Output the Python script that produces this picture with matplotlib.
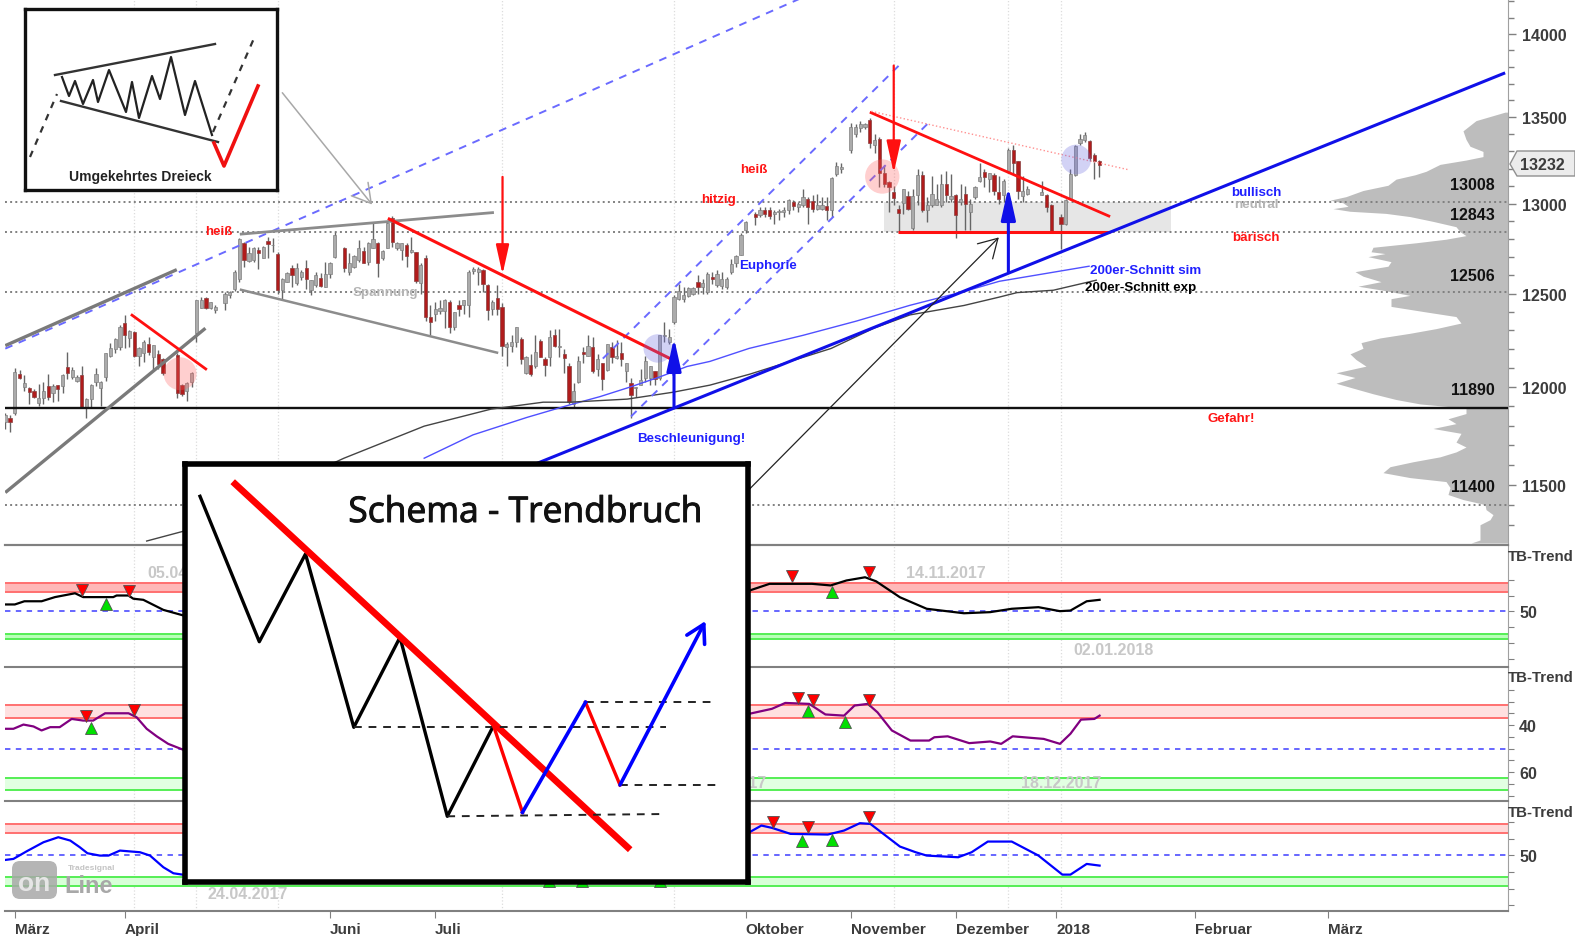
#chart of the DAX with trend lines, volume profile and three indicator panels
import numpy as np
import matplotlib
matplotlib.use('Agg')
import matplotlib.pyplot as plt
import matplotlib.patheffects as pe
from matplotlib.patches import FancyBboxPatch, Polygon

nan = float('nan')
W, H = 1575, 937

#candles, one entry per bar
highs = [11864,11855,12100,12088,12061,12000,11989,12016,12025,12070,
         12016,12011,12070,12187,12106,12061,12111,11944,12016,12100,
         12034,12178,12231,12258,12330,12384,12303,12298,12213,12249,
         12267,12222,12196,12151,nan,nan,12178,12016,12025,12079,
         12464,12482,12482,12455,12438,nan,12509,12513,12629,12805,
         12787,12759,12759,12759,12763,12815,12805,12726,12583,12620,
         12657,12666,12629,12685,12574,12620,12615,12676,12676,12842,
         nan,12759,12722,12713,12796,12759,12787,12889,12787,12741,
         12898,12930,12787,12781,12778,12815,12731,12666,12713,12435,
         12453,12463,12472,12463,12398,12463,12463,12629,12645,12645,
         12636,12554,12464,12545,12446,12238,12274,12319,12265,12165,
         12174,12274,12256,12156,12301,12310,12310,12201,12129,12020,
         12165,12210,12274,12265,12174,12129,12228,12238,12247,12238,
         12129,12047,12002,12093,12165,12111,12084,12274,12346,12310,
         12491,12554,12536,12536,12536,12600,12581,12618,12617,12630,
         12617,12589,12691,12710,12832,12901,nan,12953,12981,12981,
         12981,12963,12972,12981,13028,13019,13009,13084,13037,13047,
         13056,13037,13037,13150,13238,13234,nan,13468,13458,13477,
         13468,13496,13402,13383,13224,13131,13103,12991,13084,13075,
         13084,13200,13187,13037,13159,13112,13168,13187,13168,13056,
         13112,13103,13028,13103,13234,13197,13178,13178,13159,13140,
         13318,13337,13243,13159,13103,nan,nan,13131,13056,13000,
         nan,12944,13028,13197,13337,13402,13411,13365,13290,13253]
lows = [11783,11765,11855,12043,11980,11914,11944,11900,11914,11935,
        11921,11927,11971,12043,12043,12025,11891,11837,11891,12007,
        11900,12034,12160,12178,12196,12204,12213,12160,12111,12133,
        12169,12088,12097,12061,nan,nan,11944,11953,11927,11998,
        12240,12420,12416,12416,12393,nan,12411,12473,12515,12565,
        12648,12676,12676,12633,12694,12694,12731,12500,12466,12565,
        12537,12546,12574,12527,12490,12537,12537,12537,12583,12694,
        nan,12620,12602,12639,12676,12666,12657,12750,12589,12685,
        12750,12759,12741,12685,12648,12722,12559,12500,12351,12277,
        12351,12388,12314,12287,12300,12379,12388,12370,12609,12545,
        12509,12355,12382,12382,12165,12111,12183,12210,12120,12066,
        12056,12102,12156,12056,12111,12210,12156,12075,11912,11894,
        12020,12129,12165,12075,12056,11984,12084,12129,12147,12111,
        12029,11839,11948,12011,12029,12011,12011,12038,12238,12228,
        12337,12464,12455,12482,12491,12500,12500,12500,12551,12533,
        12523,12523,12607,12645,12710,12832,nan,12878,12925,12925,
        12916,12888,12907,12925,12944,12963,12953,12981,12888,12953,
        12963,12963,12907,12925,13159,13178,nan,13290,13383,13411,
        13430,13318,13290,13093,13093,12953,12991,12841,12944,12963,
        12851,12991,12953,12897,12981,12991,12981,13009,13009,12804,
        12991,12851,12851,13028,13122,13094,13066,13047,13000,13009,
        13178,13168,13028,13009,13047,nan,nan,13051,12953,12832,
        nan,12748,12879,13028,13159,13337,13355,13243,13140,13155]
opens = [11819,11837,11864,12070,12000,11993,11980,11918,11944,12004,
         11971,12011,12004,12106,12052,12034,12061,11891,11939,12029,
         11993,12052,12165,12201,12213,12339,12258,12294,12165,12178,
         12228,12160,12172,12147,nan,nan,12169,12011,11980,12025,
         12285,12423,12473,12423,12411,nan,12447,12491,12527,12578,
         12778,12681,12685,12741,12694,12792,12765,12718,12522,12565,
         12639,12555,12592,12639,12522,12546,12583,12537,12607,12700,
         nan,12750,12620,12648,12685,12735,12676,12750,12781,12694,
         12750,12917,12750,12741,12768,12728,12731,12555,12694,12370,
         12388,12403,12403,12453,12318,12435,12435,12435,12621,12618,
         12627,12545,12418,12473,12428,12210,12216,12238,12256,12075,
         12114,12111,12246,12147,12156,12274,12210,12174,12111,11912,
         12024,12187,12165,12210,12093,12129,12089,12210,12152,12180,
         12084,12020,11993,12011,12047,12047,12084,12047,12270,12238,
         12346,12469,12469,12487,12500,12563,12536,12509,12592,12546,
         12542,12533,12617,12669,12714,12850,nan,12944,12935,12963,
         12963,12944,12953,12953,12963,13009,12981,12991,13028,13013,
         12972,12972,12987,12963,13168,13196,nan,13309,13402,13439,
         13443,13486,13337,13374,13178,13122,13069,12972,13006,13043,
         12860,13047,13163,12963,12995,12995,12991,13112,13028,13047,
         13009,13056,12953,13037,13131,13182,13140,13163,13069,13047,
         13187,13309,13243,13043,13056,nan,nan,13051,13051,12994,
         nan,12925,12888,13028,13163,13350,13365,13361,13281,13243]
closes = [11855,11819,12079,12048,12022,11975,11950,11944,11980,11950,
          12007,11989,12061,12075,12088,12052,11896,11936,12011,12070,
          12029,12178,12204,12255,12321,12276,12298,12165,12208,12240,
          12187,12222,12124,12075,nan,nan,11971,11962,12022,12074,
          12464,12464,12423,12452,12429,nan,12500,12509,12620,12800,
          12685,12722,12750,12722,12759,12774,12768,12522,12578,12611,
          12602,12639,12620,12578,12574,12602,12540,12607,12666,12824,
          nan,12639,12670,12704,12750,12670,12781,12800,12666,12735,
          12889,12787,12778,12778,12704,12741,12570,12657,12370,12348,
          12416,12422,12466,12318,12398,12416,12463,12620,12636,12636,
          12554,12409,12455,12418,12219,12228,12238,12319,12147,12156,
          12066,12183,12161,12114,12265,12219,12216,12152,11921,11980,
          12138,12174,12216,12084,12147,12044,12228,12156,12165,12147,
          12125,11957,11999,12038,12138,12111,12042,12274,12277,12265,
          12482,12513,12491,12531,12531,12536,12560,12609,12579,12607,
          12579,12579,12663,12706,12826,12897,nan,12922,12963,12940,
          12931,12953,12957,12966,13019,12987,13000,13037,12981,12968,
          12991,12991,12963,13144,13215,13211,nan,13443,13443,13462,
          13462,13350,13365,13178,13112,13093,13032,12950,13081,12972,
          13043,13163,12963,12991,13056,13028,13112,13047,13043,12935,
          13028,13000,13000,13094,13150,13150,13174,13075,13028,13131,
          13309,13234,13075,13075,13084,nan,nan,13066,12981,12841,
          nan,12888,13019,13168,13331,13374,13393,13262,13243,13224]

#moving averages
sma_bars = [87.7,97.9,109.2,117.6,124.5,130.8,137.1,142.7,147.5,155.7,167,178.1,189.4,200.7,208.1,215.6,226.9]
sma_vals = [11633,11752,11842,11903,11950,12000,12054,12108,12135,12204,12274,12350,12436,12511,12567,12600,12650]
ema_bars = [29.6,37.6,70.9,87.7,101.7,112.6,118.2,130.2,139.8,147.5,155.9,172.9,181.9,189.4,200.7,208,211.8,219.4,228.4]
ema_vals = [11220,11270,11633,11797,11885,11921,11921,11937,11973,12010,12068,12204,12313,12384,12435,12480,12505,12518,12573]

#volume profile
prof_price = [13530,13480,13420,13370,13330,13300,13270,13250,13225,13185,13165,13140,13105,13075,13040,13020,13005,12985,12972,12957,
              12945,12927,12900,12870,12842,12820,12800,12780,12755,12730,12720,12703,12675,12650,12620,12595,12565,12540,12518,12490,
              12472,12430,12400,12375,12340,12310,12285,12260,12235,12205,12175,12145,12110,12075,12050,12020,11990,11965,11935,11912,
              11890,11862,11835,11810,11785,11760,11715,11690,11665,11640,11615,11590,11560,11535,11515,11485,11450,11425,11400,11375,
              11350,11325,11300,11225,11210]
prof_vol = [3,32,45,42,38,25,25,42,68,82,93,112,120,145,162,178,165,160,175,158,
            122,98,75,52,48,42,62,92,135,137,123,140,117,120,153,145,127,150,125,98,
            117,117,82,52,47,72,98,128,147,145,158,152,142,172,153,172,152,135,112,88,
            42,42,60,52,75,47,52,42,52,68,95,118,125,98,62,58,60,45,23,22,
            15,18,28,28,37]

#levels and axis labels
levels = [13008,12843,12506,11400]
level_danger = 11890
price_ticks = [11500,12000,12500,13000,13500,14000]
price_minor = [11300,11400,11600,11700,11800,11900,12100,12200,12300,12400,12600,12700,12800,12900,13100,13200,13300,13400,13600,13700,13800,13900,14100,14200]
grid_bars = [27,40,57,104,140,186,210,221]
month_bars = [2,25,68,90,155,177,199,220,249,277]
month_labels = ['März','April','Juni','Juli','Oktober','November','Dezember','2018','Februar','März']

#indicator 1
ind1_left_x = [0,2,4,7.6,10.4,14.6,16.3,22.6,23.3,25.8,26.8,28.9,33.1,37.3]
ind1_left = [54.4,54.4,56.4,56.4,59,61.4,59,59,60,60,58,57.3,51,47.5]
ind1_right_x = [155.8,160,168.9,172.8,176.1,180,182.3,187.3,192.9,200.7,206.2,210.7,216.3,220.8,223,226.4,229.1]
ind1_right = [63.1,67.3,67.3,66.3,69.4,71.4,68.9,58.9,51.7,48.9,49.6,51.7,52.7,50.2,50.6,56.4,57.3]
ind1_sell = ([16,26,164.7,180.9],[63.6,62.7,71.9,74.4])
ind1_buy = ([21,173],[54.8,62.1])

#indicator 2
ind2_left_x = [0,1.7,3.8,5.9,7.6,9.4,11.4,13.9,16.3,18.4,20.9,25.8,27.5,29.6,31.7,34.1,37.1]
ind2_left = [41.6,41.6,39.8,40.6,42.3,40.9,40.9,37.4,38.1,38.1,35,35,36.7,41.6,44.8,48,50.4]
ind2_right_x = [155.8,160.5,163.3,168.3,171.7,175.6,177.8,180.6,182.6,185.6,189.5,193.4,194.5,197.3,201.8,206.2,208.5,210.9,217.4,220.8,223,225.2,228,229.1]
ind2_right = [35.2,33.1,30.6,31,35.5,36,31.7,31,34.6,42.3,46.6,46.6,45.2,44.8,47.7,47,48,44.8,45.9,48,43.7,37.7,37.4,36]
ind2_sell = ([16.9,26.9,165.9,169,180.8],[36,33.8,28.4,29.3,29.3])
ind2_buy = ([17.9,168,175.9],[41.2,34.1,38.8])

#indicator 3
ind3_left_x = [0,1.7,4.5,8,11.1,13.6,15.6,17.2,19.8,21.6,24,28.2,30.3,33.1,35.2,37.1]
ind3_left = [47.2,47.8,52.4,57.8,60.8,58.8,54.8,51.2,49.8,49.8,52.8,51.8,49.8,42.8,39.2,38.4]
ind3_right_x = [155.8,158.3,160.5,164.4,172.2,175.6,178.9,181.1,187.3,190.6,192.9,199.5,202.3,205.7,210.7,216.3,221.3,223,226.4,229.1]
ind3_right = [63.8,67.8,66.4,62.8,62.4,64.8,69.2,68.8,55.2,51.8,49.8,48.8,51.8,58.2,58.2,49.8,38.4,38.4,44.8,43.8]
ind3_sell = ([160.8,168,180.8],[69.8,66.8,72.8])
ind3_buy = ([113.8,120.7,137.1,166.9,173],[34.5,34.5,34.5,58.8,59.2])

FONT = 'Liberation Sans'
plt.rcParams['font.family'] = [FONT, 'DejaVu Sans']
GREY_TXT = '#3c3c3c'
XLIM = (-0.06, 314.6)

fig = plt.figure(figsize=(W/100, H/100), dpi=100, facecolor='white')


def px_axes(left, top, right, bottom, **kw):
    return fig.add_axes([left/W, 1-bottom/H, (right-left)/W, (bottom-top)/H], **kw)


#price panel
ax = px_axes(5, 0, 1508, 545.5)
ax.set_yscale('log')
ax.set_xlim(*XLIM)
ax.set_ylim(11203, 14215)
ax.set_zorder(2)
ax.patch.set_visible(False)

bar_x = np.arange(len(closes))
hi, lo, op, cl = map(np.array, (highs, lows, opens, closes))
is_red = cl < op
ax.vlines(bar_x, lo, hi, color='#666666', lw=1.0, zorder=3)
ax.bar(bar_x[~is_red], (cl-op)[~is_red], bottom=op[~is_red], width=0.68, color='#ababab', edgecolor='#808080', lw=0.5, zorder=4)
ax.bar(bar_x[is_red], (op-cl)[is_red], bottom=cl[is_red], width=0.68, color='#b01c1c', edgecolor='#8a4040', lw=0.5, zorder=4)

for b in grid_bars:
    ax.axvline(b, color='#dcdcdc', ls=':', lw=0.9, zorder=1)
for lv in levels:
    ax.axhline(lv, color='#808080', ls=':', lw=1.4, zorder=2)
ax.axhline(level_danger, color='#111111', lw=1.7, zorder=5)

#grey box behind the triangle
ax.fill_between([184, 244], 12843, 13008, color='#e6e6e6', lw=0, zorder=1)

ax.plot(sma_bars, sma_vals, color='#5050ff', lw=1.0, zorder=5)
ax.plot(ema_bars, ema_vals, color='#444444', lw=1.0, zorder=5)


def tline(b0, p0, b1, p1, color, lw=2.2, ls='-'):
    ax.plot([b0, b1], [p0, p1], color=color, lw=lw, ls=ls, zorder=6, solid_capstyle='butt')


#dashed channels
tline(0, 12203, 166.2, 14215, '#6a6aff', 1.4, (0, (4, 3.5)))
tline(125.1, 12150, 187.5, 13820, '#6a6aff', 1.4, (0, (4, 3.5)))
tline(131, 11847, 193.4, 13470, '#6a6aff', 1.4, (0, (4, 3.5)))
#grey trend lines
tline(0, 12219, 35.9, 12631, '#7a7a7a', 2.4)
tline(0, 11460, 41.9, 12312, '#7a7a7a', 2.4)
tline(49.1, 12828, 102.3, 12950, '#8c8c8c', 2.0)
tline(49.1, 12522, 103.2, 12180, '#8c8c8c', 1.8)
#red trend lines
tline(26.3, 12387, 42.2, 12091, '#ff1010', 2.0)
tline(80.1, 12917, 139.2, 12150, '#ff1010', 2.2)
tline(181, 13530, 231.3, 12927, '#ff1010', 2.0)
tline(186.9, 12840, 231.3, 12840, '#ff1010', 2.2)
tline(181.3, 13535, 235, 13195, '#ff9090', 1.0, ':')
#main rising trend
tline(100, 11497, 314, 13764, '#1010e8', 2.2)


def arrow(b0, p0, b1, p1, color, lw, size, style='-|>,head_length=0.9,head_width=0.2'):
    ax.annotate('', xy=(b1, p1), xytext=(b0, p0), zorder=7,
                arrowprops=dict(arrowstyle=style, color=color, lw=lw, mutation_scale=size, shrinkA=0, shrinkB=0))


arrow(104.1, 13153, 104.1, 12605, '#ff1010', 1.6, 20)
arrow(186, 13808, 186, 13175, '#ff1010', 1.6, 22)
arrow(140, 11893, 140, 12260, '#1010e8', 2.2, 22)
arrow(210, 12620, 210, 13095, '#1010e8', 2.2, 22)
arrow(155.5, 11470, 208, 12810, '#222222', 0.9, 22, '->,head_length=0.6,head_width=0.35')
arrow(58, 13645, 76.8, 12995, '#a8a8a8', 1.1, 22, '->,head_length=0.6,head_width=0.35')

#highlight circles
ax.scatter([36.6, 183.6], [12070, 13155], s=[560, 610], color='#ff6060', alpha=0.3, lw=0, zorder=6)
ax.scatter([136.6, 224.2], [12204, 13253], s=[420, 460], color='#6a6ae0', alpha=0.3, lw=0, zorder=6)

ax.set_xticks([])
ax.yaxis.tick_right()
ax.set_yticks(price_ticks)
ax.set_yticklabels([str(t) for t in price_ticks], fontweight='bold', fontsize=11.5, color=GREY_TXT)
ax.set_yticks(price_minor, minor=True)
ax.yaxis.set_minor_formatter(matplotlib.ticker.NullFormatter())
ax.tick_params(axis='y', which='major', length=6, color='#808080', pad=4, width=1)
ax.tick_params(axis='y', which='minor', length=4, color='#808080', width=1)
for s in ('top', 'left'):
    ax.spines[s].set_visible(False)
ax.spines['right'].set_color('#a0a0a0')
ax.spines['bottom'].set_color('#808080')
ax.spines['bottom'].set_linewidth(1.5)

#volume profile in its own axes below the candles
ax_prof = ax.twiny()
ax_prof.set_zorder(1)
ax_prof.set_xlim(1503, 0)
ax_prof.fill_betweenx(prof_price, prof_vol, 0, color='#bdbdbd', lw=0)
ax_prof.axis('off')


def panel(top, bottom, ylim, ticks, tick_text, band_red, band_green, mid, xl, yl, xr, yr, color, sell, buy, red_fill, grn_fill):
    a = px_axes(5, top, 1508, bottom)
    a.set_xlim(*XLIM)
    a.set_ylim(*ylim)
    for b in grid_bars:
        a.axvline(b, color='#dcdcdc', ls=':', lw=0.9, zorder=1)
    a.axhspan(band_red[0], band_red[1], color=red_fill, lw=0, zorder=1)
    a.axhspan(band_green[0], band_green[1], color=grn_fill, lw=0, zorder=1)
    for v in band_red:
        a.axhline(v, color='#ff7070', lw=1.4, zorder=2)
    for v in band_green:
        a.axhline(v, color='#55ee55', lw=1.4, zorder=2)
    a.axhline(mid, color='#5a5aff', ls=(0, (3, 3)), lw=1.3, zorder=2)
    a.plot(xl, yl, color=color, lw=1.6, zorder=3)
    a.plot(xr, yr, color=color, lw=1.6, zorder=3)
    a.plot(sell[0], sell[1], 'v', ms=8.5, color='#ff0000', mec='#505050', mew=0.6, zorder=4)
    a.plot(buy[0], buy[1], '^', ms=8.5, color='#00e000', mec='#505050', mew=0.6, zorder=4)
    a.yaxis.tick_right()
    a.set_yticks(ticks)
    a.set_yticklabels(tick_text, fontweight='bold', fontsize=11.5, color=GREY_TXT)
    a.tick_params(axis='y', length=4, color='#808080', pad=4)
    a.set_xticks([])
    a.spines['left'].set_visible(False)
    a.spines['bottom'].set_visible(False)
    a.spines['right'].set_color('#a0a0a0')
    a.spines['top'].set_color('#808080')
    a.spines['top'].set_linewidth(1.5)
    return a


ax1 = panel(545.5, 667.5, (15.6, 91.9), [20, 30, 40, 50, 60, 70], ['', '', '', '50', '', ''],
            (62.5, 68), (32.5, 36), 50, ind1_left_x, ind1_left, ind1_right_x, ind1_right,
            '#000000', ind1_sell, ind1_buy, '#ffb8b8', '#b8ffb8')
ax2 = panel(667.5, 801.5, (72.1, 15.1), [25, 30, 35, 40, 45, 50, 55, 60, 65, 70], ['', '', '', '40', '', '', '', '60', '', ''],
            (31.4, 36.8), (62.5, 67.7), 50, ind2_left_x, ind2_left, ind2_right_x, ind2_right,
            '#800080', ind2_sell, ind2_buy, '#ffe0e0', '#e2ffe2')
ax3 = panel(801.5, 911.5, (16.9, 82.8), [20, 30, 40, 50, 60, 70], ['', '', '', '50', '', ''],
            (63.3, 68.5), (31.8, 37), 50, ind3_left_x, ind3_left, ind3_right_x, ind3_right,
            '#0000ff', ind3_sell, ind3_buy, '#ffd8d8', '#d8ffd8')

ax3.spines['bottom'].set_visible(True)
ax3.spines['bottom'].set_color('#808080')
ax3.spines['bottom'].set_linewidth(1.5)
ax3.set_xticks(month_bars)
ax3.set_xticklabels(month_labels, fontweight='bold', fontsize=11, color=GREY_TXT, ha='left')
ax3.tick_params(axis='x', length=5, color='#808080', pad=3)

#overlay in figure pixels for labels and the logo
ov = px_axes(0, 0, W, H)
ov.set_xlim(0, W)
ov.set_ylim(H, 0)
ov.axis('off')
ov.set_zorder(5)


def label(x, y, s, color='#000000', size=9.6, ha='center', weight='bold'):
    ov.text(x, y, s, color=color, fontsize=size, ha=ha, va='center', fontweight=weight)


RED = '#ff1515'
BLUE = '#2020ff'
label(219, 232, 'heiß', RED)
label(754, 170, 'heiß', RED)
label(719, 200, 'hitzig', RED)
label(385, 293, 'Spannung', '#b4b4b4')
label(768, 266, 'Euphorie', BLUE)
label(691, 439, 'Beschleunigung!', BLUE)
label(1256, 193, 'bullisch', BLUE)
label(1256, 205, 'neutral', '#b4b4b4')
label(1256, 238, 'bärisch', RED)
label(1231, 419, 'Gefahr!', RED)
label(1090, 271, '200er-Schnitt sim', BLUE, ha='left')
label(1085, 288, '200er-Schnitt exp', '#000000', ha='left')
for y, s in [(186, '13008'), (215, '12843'), (277, '12506'), (391, '11890'), (488, '11400')]:
    label(1495, y, s, '#111111', 11.5, ha='right')
for y in (557, 678, 813):
    label(1508, y, 'TB-Trend', GREY_TXT, 10.8, ha='left')
for x, y, s in [(147, 574, '05.04.2017'), (906, 574, '14.11.2017'), (1073, 651, '02.01.2018'),
                (686, 784, '18.09.2017'), (1021, 784, '18.12.2017'), (208, 895, '24.04.2017')]:
    label(x, y, s, '#c8c8c8', 11.5, ha='left')

#last price tag
ov.add_patch(Polygon([(1510, 165), (1517, 152), (1575, 152), (1575, 177), (1517, 177)],
                     closed=True, fc='#ececec', ec='#909090', lw=1))
label(1520, 165, '13232', GREY_TXT, 11.5, ha='left')

#logo
ov.add_patch(FancyBboxPatch((12, 862), 45, 38, boxstyle='round,pad=0,rounding_size=8', fc='#a8a8a8', ec='none', alpha=0.85))
label(34, 884, 'on', '#e6e6e6', 19)
label(89, 887, 'Line', '#a8a8a8', 17)
label(92, 869, 'Tradesignal', '#c4c4c4', 6)

#small pattern picture top left
in1 = px_axes(24.5, 9.5, 276.5, 190.5)
in1.set_zorder(10)
in1.set_xlim(24.5, 276.5)
in1.set_ylim(190.5, 9.5)
in1.set_xticks([])
in1.set_yticks([])
for s in in1.spines.values():
    s.set_linewidth(2.4)
    s.set_color('#111111')
tri_x = [62,69,75,83,93,98,109,126,132,139,152,160,171,185,195,212]
tri_y = [78,97,82,105,81,103,71,113,83,119,77,100,58,116,82,136]
in1.plot(tri_x, tri_y, color='#222222', lw=1.6)
in1.plot([55, 215], [76, 45], color='#333333', lw=1.7)
in1.plot([61, 218], [102, 143], color='#333333', lw=1.7)
in1.plot([30, 57], [158, 95], color='#333333', lw=1.6, ls=(0, (3, 3)))
in1.plot([213, 255], [133, 37], color='#333333', lw=1.6, ls=(0, (3, 3)))
in1.plot([214, 224, 258], [144, 167, 87], color='#f01010', lw=2.6)
in1.text(140, 177, 'Umgekehrtes Dreieck', fontsize=10, fontweight='bold', ha='center', va='center', color='#222222')

#large trend break picture
in2 = px_axes(185, 465, 747.5, 883)
in2.set_zorder(10)
in2.set_xlim(185, 747.5)
in2.set_ylim(883, 465)
in2.set_xticks([])
in2.set_yticks([])
for s in in2.spines.values():
    s.set_linewidth(4)
    s.set_color('#000000')
zig_x = [200,259.3,305.5,353.8,400,447.3,493.5]
zig_y = [497.3,642.7,555,728.3,638.3,817.3,726.7]
in2.plot(zig_x, zig_y, color='#000000', lw=2.4)
in2.plot([232.7, 630.2], [482.7, 850.7], color='#ff0000', lw=4.8, solid_capstyle='butt')
dash = (0, (4, 3.5))
for x0, x1, y0, y1 in [(353.8, 665.5, 728.3, 728.3), (585.5, 716.4, 703.3, 703.3), (620, 720, 786, 786), (447.3, 665.5, 817.3, 815)]:
    in2.plot([x0, x1], [y0, y1], color='#222222', lw=1.4, ls=dash)
in2.plot([493.5, 522.5], [726.7, 813.3], color='#ff0000', lw=2.4)
in2.plot([585.5, 620], [703.3, 786], color='#ff0000', lw=2.4)
in2.plot([522.5, 585.5], [813.3, 703.3], color='#0000ff', lw=2.6)
in2.annotate('', xy=(705.5, 622), xytext=(620, 786),
             arrowprops=dict(arrowstyle='->,head_length=0.7,head_width=0.4', color='#0000ff', lw=2.6, mutation_scale=18, shrinkA=0, shrinkB=0))
in2.text(525, 514, 'Schema - Trendbruch', fontsize=25.5, family='Open Sans', ha='center', va='center', color='#111111',
         path_effects=[pe.withStroke(linewidth=0.7, foreground='#111111')])

fig.savefig('out.png', dpi=100)
plt.close('all')
